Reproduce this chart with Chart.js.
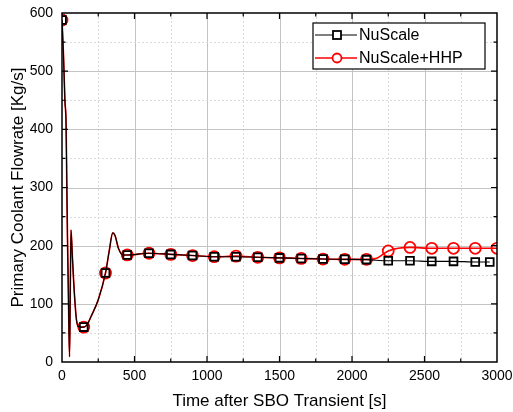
<!DOCTYPE html>
<html>
<head>
<meta charset="utf-8">
<script src="https://cdn.jsdelivr.net/npm/chart.js@4.4.1/dist/chart.umd.min.js"></script>
<style>
    html, body { margin: 0; padding: 0; background: #fff; }
    #wrap { width: 513px; height: 412px; position: relative; }
</style>
</head>
<body>
<div id="wrap"><canvas id="flow-chart"></canvas></div>
<script>
// Values
const nuscaleTime = [0, 10, 20, 28, 33, 38, 45, 52, 57, 62, 70, 80, 100, 120, 150, 175, 200, 250, 300, 325, 350, 365, 390, 420, 450,
    600, 750, 900, 1050, 1200, 1350, 1500, 1650, 1800, 1950, 2100, 2250, 2400, 2550, 2700, 2850, 2950];
const nuscaleFlow = [588, 530, 450, 410, 310, 210, 100, 9, 120, 227, 190, 140, 72, 60, 60, 65, 78, 107, 153, 190, 222, 218, 195, 184, 184,
    187, 185, 183, 181, 181, 180, 179, 178, 177, 176.5, 176, 174, 174, 173, 173, 172, 172];

const hhpTime = [0, 10, 20, 28, 33, 38, 45, 52, 57, 62, 70, 80, 100, 120, 150, 175, 200, 250, 300, 325, 350, 365, 390, 420, 450,
    600, 750, 900, 1050, 1200, 1350, 1500, 1650, 1800, 1950, 2100, 2175, 2250, 2400, 2550, 2700, 2850, 3000];
const hhpFlow = [588, 530, 450, 410, 310, 210, 100, 9, 120, 227, 190, 140, 72, 60, 60, 65, 78, 107, 153, 190, 222, 218, 195, 184, 184,
    187, 185, 183, 181, 182, 180, 179, 178, 177, 176.5, 176.5, 179, 191, 197, 195.5, 195.5, 195.5, 195.5];

const seriesNames = ['NuScale', 'NuScale+HHP'];
const markerStep = 150;

const xLabel = 'Time after SBO Transient [s]';
const yLabel = 'Primary Coolant Flowrate [Kg/s]';

const FONT = '"Liberation Sans", Arial, sans-serif';

function toPoints(xs, ys) {
    return xs.map((x, i) => ({ x: x, y: ys[i] }));
}

function markerRadius(times, r) {
    return ctx => {
        const t = times[ctx.dataIndex];
        return (t % markerStep === 0 || ctx.dataIndex === times.length - 1) ? r : 0;
    };
}

// grid, frame and inward ticks on all four sides
const framePlugin = {
    id: 'frame',
    beforeDatasetsDraw(chart) {
        const { ctx, chartArea: a, scales: { x, y } } = chart;
        ctx.save();
        ctx.lineWidth = 1;
        for (let v = 250; v < 3000; v += 250) {
            const px = Math.round(x.getPixelForValue(v)) + 0.5;
            const major = v % 500 === 0;
            ctx.strokeStyle = major ? '#c4c4c4' : '#dadada';
            ctx.setLineDash(major ? [] : [2, 2]);
            ctx.beginPath(); ctx.moveTo(px, a.top); ctx.lineTo(px, a.bottom); ctx.stroke();
        }
        for (let v = 50; v < 600; v += 50) {
            const py = Math.round(y.getPixelForValue(v)) + 0.5;
            const major = v % 100 === 0;
            ctx.strokeStyle = major ? '#c4c4c4' : '#dadada';
            ctx.setLineDash(major ? [] : [2, 2]);
            ctx.beginPath(); ctx.moveTo(a.left, py); ctx.lineTo(a.right, py); ctx.stroke();
        }
        ctx.restore();
    },
    afterDatasetsDraw(chart) {
        const { ctx, chartArea: a, scales: { x, y } } = chart;
        ctx.save();
        ctx.strokeStyle = '#000';
        ctx.lineWidth = 1.2;
        ctx.setLineDash([]);
        for (let v = 250; v < 3000; v += 250) {
            const px = x.getPixelForValue(v);
            const len = v % 500 === 0 ? 6 : 3.5;
            ctx.beginPath();
            ctx.moveTo(px, a.bottom); ctx.lineTo(px, a.bottom - len);
            ctx.moveTo(px, a.top); ctx.lineTo(px, a.top + len);
            ctx.stroke();
        }
        for (let v = 50; v < 600; v += 50) {
            const py = y.getPixelForValue(v);
            const len = v % 100 === 0 ? 6 : 3.5;
            ctx.beginPath();
            ctx.moveTo(a.left, py); ctx.lineTo(a.left + len, py);
            ctx.moveTo(a.right, py); ctx.lineTo(a.right - len, py);
            ctx.stroke();
        }
        ctx.lineWidth = 1.5;
        ctx.strokeRect(a.left, a.top, a.right - a.left, a.bottom - a.top);
        ctx.restore();
    },
};

// boxed legend in the upper right, line + marker samples
const legendPlugin = {
    id: 'boxLegend',
    afterDraw(chart) {
        const { ctx } = chart;
        const bx = 313, by = 23, bw = 172, bh = 46;
        ctx.save();
        ctx.fillStyle = '#fff';
        ctx.fillRect(bx, by, bw, bh);
        ctx.strokeStyle = '#000';
        ctx.lineWidth = 1.2;
        ctx.strokeRect(bx, by, bw, bh);
        ctx.font = '16px ' + FONT;
        ctx.textBaseline = 'middle';
        chart.data.datasets.forEach((ds, i) => {
            const ly = by + 12 + i * 23;
            ctx.strokeStyle = ds.borderColor;
            ctx.lineWidth = ds.borderWidth;
            ctx.beginPath(); ctx.moveTo(bx + 2, ly); ctx.lineTo(bx + 44, ly); ctx.stroke();
            ctx.lineWidth = 1.8;
            ctx.fillStyle = '#fff';
            if (ds.pointStyle === 'rect') {
                ctx.fillRect(bx + 20, ly - 4, 8, 8);
                ctx.strokeRect(bx + 20, ly - 4, 8, 8);
            } else {
                ctx.beginPath(); ctx.arc(bx + 24, ly, 4.5, 0, Math.PI * 2); ctx.fill(); ctx.stroke();
            }
            ctx.fillStyle = '#000';
            ctx.fillText(ds.label, bx + 46, ly + 1);
        });
        ctx.restore();
    },
};

new Chart(document.getElementById('flow-chart'), {
    type: 'line',
    data: {
        datasets: [{
            label: seriesNames[0],
            data: toPoints(nuscaleTime, nuscaleFlow),
            borderColor: '#000',
            borderWidth: 1.1,
            pointStyle: 'rect',
            pointRadius: markerRadius(nuscaleTime, 5.5),
            pointBackgroundColor: 'rgba(255,255,255,0)',
            pointBorderColor: '#000',
            pointBorderWidth: 1.8,
            cubicInterpolationMode: 'monotone',
        }, {
            label: seriesNames[1],
            data: toPoints(hhpTime, hhpFlow),
            borderColor: '#ff0000',
            borderWidth: 1.6,
            pointStyle: 'circle',
            pointRadius: markerRadius(hhpTime, 5.5),
            pointBackgroundColor: 'rgba(255,255,255,0)',
            pointBorderColor: '#ff0000',
            pointBorderWidth: 1.8,
            cubicInterpolationMode: 'monotone',
        }],
    },
    options: {
        responsive: true,
        maintainAspectRatio: false,
        animation: false,
        layout: { padding: { top: 13, right: 16, left: 0, bottom: 0 } },
        plugins: {
            legend: { display: false },
            tooltip: { enabled: false },
        },
        scales: {
            x: {
                type: 'linear',
                min: 0,
                max: 3000,
                grid: { display: false, drawTicks: false },
                border: { display: false },
                ticks: {
                    stepSize: 500, color: '#000', padding: 6, font: { family: FONT, size: 14 },
                    callback: v => String(v),
                },
                title: { display: true, text: xLabel, color: '#000', padding: { top: 0, bottom: 0 }, font: { family: FONT, size: 17 } },
                afterFit(scale) {
                    scale.height = 50;
                    scale.paddingLeft = 0;
                    scale.paddingRight = 0;
                },
            },
            y: {
                min: 0,
                max: 600,
                grid: { display: false, drawTicks: false },
                border: { display: false },
                ticks: {
                    stepSize: 100, color: '#000', padding: 9, font: { family: FONT, size: 14 },
                    callback: v => String(v),
                },
                title: { display: true, text: yLabel, color: '#000', padding: { top: 8, bottom: 0 }, font: { family: FONT, size: 17 } },
                afterFit(scale) {
                    scale.width = 62;
                    scale.paddingTop = 0;
                    scale.paddingBottom = 0;
                },
            },
        },
    },
    plugins: [framePlugin, legendPlugin],
});
</script>
</body>
</html>
